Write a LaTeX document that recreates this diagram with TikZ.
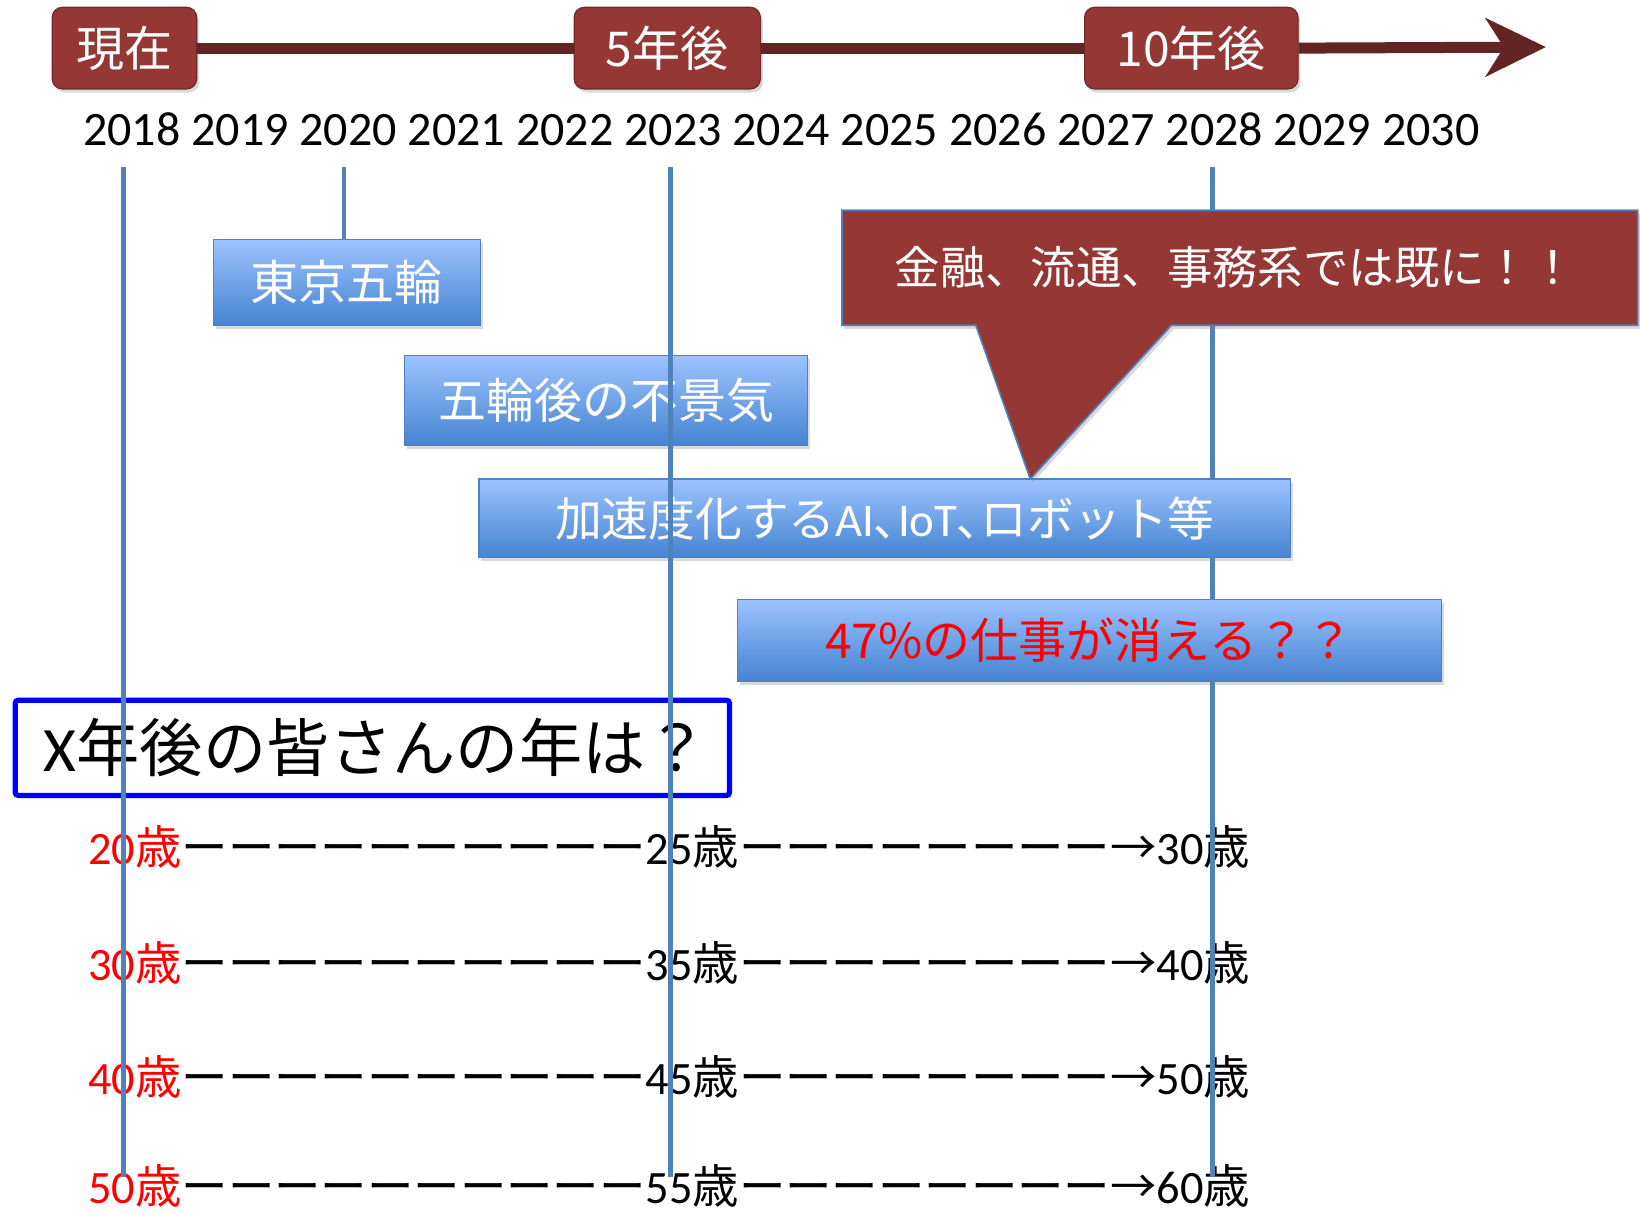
\documentclass[tikz,border=0pt]{standalone}
\usepackage{fontspec}
\setmainfont{Carlito}
\newfontfamily\jp{Noto Sans CJK JP}
\usetikzlibrary{arrows.meta,shadows,calc}
\definecolor{boxred}{HTML}{953735}
\definecolor{arrred}{HTML}{632523}
\definecolor{lineblue}{HTML}{4F81BD}
\definecolor{boxtop}{HTML}{9CC3FF}
\definecolor{boxbot}{HTML}{4583D1}
\definecolor{xblue}{HTML}{0000FF}
\definecolor{alert}{HTML}{FF0000}
\begin{document}
\begin{tikzpicture}[x=0.523pt,y=-0.523pt,
  shad/.style={drop shadow={shadow xshift=1.2pt, shadow yshift=-1.8pt, opacity=0.3}},
  redbox/.style={rectangle, rounded corners=5pt, fill=boxred, draw=boxred!75!black,
    line width=0.6pt, text=white, inner sep=0pt, minimum height=40.8pt,
    font=\jp\fontsize{24}{24}\selectfont, shad},
  arrline/.style={draw=arrred, line width=5.5pt},
  yearlbl/.style={anchor=base, inner sep=0pt, font=\fontsize{24}{24}\selectfont},
  vline/.style={draw=lineblue, line width=2.3pt},
  bluebox/.style={rectangle, top color=boxtop, bottom color=boxbot, draw=lineblue,
    line width=0.6pt, text=white, inner sep=0pt, font=\jp\fontsize{24}{24}\selectfont, shad},
  calloutshape/.style={fill=boxred, draw=lineblue, line width=0.8pt, shad},
  callouttext/.style={text=white, inner sep=0pt, font=\jp\fontsize{22.7}{22.7}\selectfont},
  qbox/.style={rectangle, draw=xblue, line width=2.6pt, rounded corners=1.5pt,
    minimum width=357.2pt, minimum height=47.6pt, inner xsep=14.4pt, inner ysep=0pt,
    text width=328.4pt, align=left, font=\jp\fontsize{31.6}{31.6}\selectfont},
  agerow/.style={anchor=base west, inner sep=0pt, font=\fontsize{23.2}{23.2}\selectfont}
]
\useasboundingbox (0,0) rectangle (1568,1161);

% top timeline
\node[redbox, minimum width=72.2pt] (now) at (119,46) {現在};
\node[redbox, minimum width=93.1pt] (five) at (638,46) {5年後};
\node[redbox, minimum width=106.7pt] (ten) at (1139,46) {10年後};
\coordinate (tip) at (1478,45);
\draw[arrline] (now.east) -- (five.west);
\draw[arrline] (five.east) -- (ten.west);
\draw[arrline, -{Stealth[length=30pt,width=29pt,inset=9pt]}] (ten.east) -- (tip);

% years
\foreach \yr [count=\i from 0] in {2018,2019,2020,2021,2022,2023,2024,2025,2026,2027,2028,2029,2030}
  \node[yearlbl] (y\yr) at ({126+103.5*\i},139) {\yr};

% ages
\foreach \a/\b/\c/\yy [count=\k from 0] in {20/25/30/827,30/35/40/937,40/45/50/1046,50/55/60/1151}
  \node[agerow] (age\k) at (84,\yy)
    {{\color{alert}\a{\jp 歳}}{\jp ーーーーーーーーーー}\b{\jp 歳ーーーーーーーー→}\c{\jp 歳}};

% vertical guide lines
\coordinate (l18t) at (118,160); \coordinate (l18b) at (118,1125);
\coordinate (l20t) at (329,160);
\coordinate (l23t) at (641,160); \coordinate (l23b) at (641,1125);
\coordinate (l28t) at (1159,160); \coordinate (l28b) at (1159,1125);
\draw[vline] (l28t) -- (l28b);

% event boxes
\node[bluebox, minimum width=133.4pt, minimum height=42.9pt] (tokyo) at (331.5,270) {東京五輪};
\node[bluebox, minimum width=201.4pt, minimum height=45pt] (slump) at (579.5,383) {五輪後の不景気};
\node[bluebox, minimum width=405.8pt, minimum height=39.2pt, font=\jp\fontsize{23.4}{23.4}\selectfont] (ai) at (846,495.5)
  {加速度化する{\rmfamily AI}､{\rmfamily IoT}､ロボット等};
\node[bluebox, minimum width=352pt, minimum height=40.8pt, text=alert] (jobs) at (1041.5,612)
  {47\%の仕事が消える？？};
\draw[vline] (l20t) -- (l20t |- tokyo.north);

% callout
\coordinate (ctip) at (985,458);
\path[calloutshape] (805,201) -- (1566,201) -- (1566,311) -- (1120,311) -- (ctip)
  -- (933,311) -- (805,311) -- cycle;
\node[callouttext] (callout) at (1181,256) {金融、流通、事務系では既に！！};

% question box
\node[qbox] (q) at (356,715) {{\rmfamily X}年後の皆さんの年は？};

\draw[vline] (l18t) -- (l18b);
\draw[vline] (l23t) -- (l23b);
\end{tikzpicture}
\end{document}
